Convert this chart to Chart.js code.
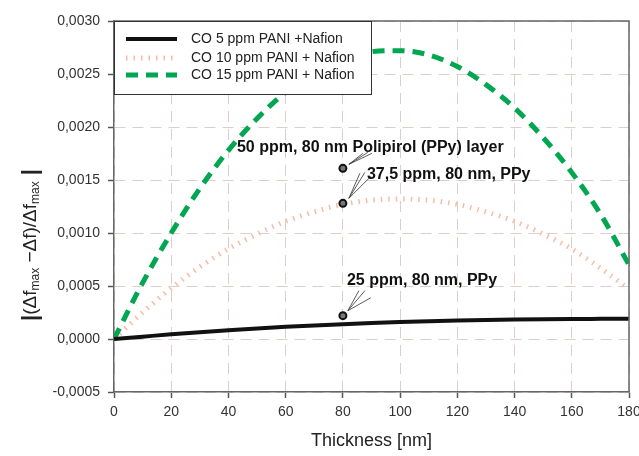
<!DOCTYPE html>
<html>
<head>
<meta charset="utf-8">
<script src="https://cdn.jsdelivr.net/npm/chart.js@4.4.1/dist/chart.umd.min.js"></script>
<style>
  html, body { margin: 0; padding: 0; background: #fff; }
  #wrap { width: 639px; height: 456px; }
</style>
</head>
<body>
<div id="wrap"><canvas id="chart_thickness"></canvas></div>
<script>
// data
var thickness = [0, 10, 20, 30, 40, 50, 60, 70, 80, 90, 100, 110, 120, 130, 140, 150, 160, 170, 180];
var co5 = [0, 0.000022, 0.000044, 0.000064, 0.000083, 0.000100, 0.000115, 0.000128, 0.000140, 0.000151,
           0.000160, 0.000168, 0.000175, 0.000180, 0.000184, 0.000187, 0.000189, 0.000190, 0.000191];
var co10 = [0, 0.00025, 0.00048, 0.00068, 0.00085, 0.00099, 0.00111, 0.00120, 0.00127, 0.00131,
            0.00132, 0.00131, 0.00127, 0.00120, 0.00111, 0.00099, 0.00085, 0.00067, 0.00047];
var co15 = [0, 0.00053, 0.00100, 0.00142, 0.00178, 0.00208, 0.00233, 0.00252, 0.00264, 0.00271,
            0.00272, 0.00268, 0.00257, 0.00240, 0.00218, 0.00190, 0.00157, 0.00118, 0.00070];
var seriesNames = ['CO 5 ppm PANI +Nafion', 'CO 10 ppm PANI + Nafion', 'CO 15 ppm PANI + Nafion'];
var markX = [80, 80, 80];
var markY = [0.00022, 0.00128, 0.00161];
var markText = ['25 ppm, 80 nm, PPy', '37,5 ppm, 80 nm, PPy', '50 ppm, 80 nm Polipirol (PPy) layer'];
var xMin = 0, xMax = 180, xStep = 20;
var yMin = -0.0005, yMax = 0.0030, yStep = 0.0005;

function pts(ys) {
    var out = [];
    for (var i = 0; i < thickness.length; i++) out.push({x: thickness[i], y: ys[i]});
    return out;
}
var marks = [];
for (var i = 0; i < markX.length; i++) marks.push({x: markX[i], y: markY[i]});

var FONT = "'Liberation Sans', Arial, sans-serif";

// label text offsets and pointer fan ends, relative to each marker pixel
var markLayout = [
    {dx: 4, dy: -35, from: [5, -5], to: [[16, -25], [22, -25], [28, -18]]},
    {dx: 24, dy: -29, from: [6, -5], to: [[17, -30], [22, -31], [28, -27]]},
    {dx: -106, dy: -21, from: [6, -4], to: [[20, -15], [25, -16], [29, -15]]}
];

var extras = {
    id: 'extras',
    afterDatasetsDraw: function (chart) {
        var ctx = chart.ctx, a = chart.chartArea;
        var xs = chart.scales.x, ys = chart.scales.y;
        ctx.save();
        // top and right frame
        ctx.strokeStyle = '#666';
        ctx.lineWidth = 1.5;
        ctx.beginPath();
        ctx.moveTo(a.left, a.top);
        ctx.lineTo(a.right, a.top);
        ctx.lineTo(a.right, a.bottom);
        ctx.stroke();

        // marker labels and pointer lines
        ctx.fillStyle = '#111';
        ctx.font = 'bold 16px ' + FONT;
        ctx.textBaseline = 'middle';
        ctx.textAlign = 'left';
        for (var i = 0; i < marks.length; i++) {
            var px = xs.getPixelForValue(marks[i].x), py = ys.getPixelForValue(marks[i].y);
            var L = markLayout[i];
            ctx.strokeStyle = '#333';
            ctx.lineWidth = 0.8;
            for (var k = 0; k < L.to.length; k++) {
                ctx.beginPath();
                ctx.moveTo(px + L.from[0], py + L.from[1]);
                ctx.lineTo(px + L.to[k][0], py + L.to[k][1]);
                ctx.stroke();
            }
            ctx.fillText(markText[i], px + L.dx, py + L.dy);
        }

        // legend box
        var bx = a.left, by = a.top, bw = 257, bh = 73;
        ctx.fillStyle = '#fff';
        ctx.fillRect(bx, by, bw, bh);
        ctx.strokeStyle = '#333';
        ctx.lineWidth = 1;
        ctx.strokeRect(bx + 0.5, by + 0.5, bw, bh);
        ctx.font = '14px ' + FONT;
        var rowY = [18, 37, 54];
        for (var j = 0; j < 3; j++) {
            var ds = chart.data.datasets[j];
            var yy = by + rowY[j];
            ctx.save();
            ctx.strokeStyle = ds.borderColor;
            ctx.lineWidth = ds.borderWidth;
            ctx.setLineDash(ds.borderDash || []);
            ctx.beginPath();
            ctx.moveTo(bx + 12, yy);
            ctx.lineTo(bx + 63, yy);
            ctx.stroke();
            ctx.restore();
            ctx.fillStyle = '#222';
            ctx.fillText(seriesNames[j], bx + 77, yy);
        }

        // y axis title with subscripts, rotated
        var parts = [
            {t: '|', f: 'bold 22px ' + FONT, dy: 0},
            {t: '(\u0394f', f: '19px ' + FONT, dy: 0},
            {t: 'max', f: '12px ' + FONT, dy: 5},
            {t: ' \u2212\u0394f)/\u0394f', f: '19px ' + FONT, dy: 0},
            {t: 'max', f: '12px ' + FONT, dy: 5},
            {t: ' |', f: 'bold 22px ' + FONT, dy: 0}
        ];
        var total = 0;
        for (var p = 0; p < parts.length; p++) {
            ctx.font = parts[p].f;
            parts[p].w = ctx.measureText(parts[p].t).width;
            total += parts[p].w;
        }
        ctx.translate(31, 245);
        ctx.rotate(-Math.PI / 2);
        ctx.fillStyle = '#222';
        ctx.textBaseline = 'middle';
        var cx = -total / 2;
        for (var q = 0; q < parts.length; q++) {
            ctx.font = parts[q].f;
            ctx.fillText(parts[q].t, cx, parts[q].dy);
            cx += parts[q].w;
        }
        ctx.restore();
    }
};

var ctx = document.getElementById('chart_thickness');
new Chart(ctx, {
    type: 'line',
    data: {
        datasets: [{
            label: seriesNames[0],
            data: pts(co5),
            borderColor: '#111',
            borderWidth: 4,
            pointRadius: 0,
            cubicInterpolationMode: 'monotone',
            order: 1
        }, {
            label: seriesNames[1],
            data: pts(co10),
            borderColor: '#f7bba8',
            borderWidth: 5,
            borderDash: [1.5, 6],
            pointRadius: 0,
            cubicInterpolationMode: 'monotone',
            order: 3
        }, {
            label: seriesNames[2],
            data: pts(co15),
            borderColor: '#00a650',
            borderWidth: 5,
            borderDash: [12, 8],
            pointRadius: 0,
            cubicInterpolationMode: 'monotone',
            order: 2
        }, {
            label: 'marks',
            data: marks,
            showLine: false,
            pointRadius: 3.5,
            pointBorderWidth: 2,
            pointBackgroundColor: '#777',
            pointBorderColor: '#111',
            order: 0
        }]
    },
    plugins: [extras],
    options: {
        responsive: true,
        maintainAspectRatio: false,
        animation: false,
        layout: {
            padding: {left: 0, right: 10, top: 21, bottom: 0}
        },
        plugins: {
            legend: {display: false},
            tooltip: {enabled: false}
        },
        scales: {
            x: {
                type: 'linear',
                min: xMin,
                max: xMax,
                afterFit: function (scale) {
                    scale.height = 64;
                    scale.paddingLeft = 0;
                    scale.paddingRight = 0;
                },
                ticks: {
                    stepSize: xStep,
                    padding: 6,
                    color: '#333',
                    font: {family: FONT, size: 14}
                },
                grid: {
                    color: '#dccfcb',
                    lineWidth: 1,
                    tickLength: 6,
                    tickColor: '#555',
                    tickWidth: 1.5,
                    tickBorderDash: []
                },
                border: {color: '#666', width: 1.5, dash: [11, 7]},
                title: {
                    display: true,
                    text: 'Thickness [nm]',
                    color: '#222',
                    font: {family: FONT, size: 18},
                    padding: {top: 4, bottom: 4}
                }
            },
            y: {
                min: yMin,
                max: yMax,
                afterFit: function (scale) {
                    scale.width = 114;
                    scale.paddingTop = 0;
                    scale.paddingBottom = 0;
                },
                ticks: {
                    stepSize: yStep,
                    padding: 8,
                    color: '#333',
                    font: {family: FONT, size: 14},
                    callback: function (v) { return v.toFixed(4).replace('.', ','); }
                },
                grid: {
                    color: '#dccfcb',
                    lineWidth: 1,
                    tickLength: 6,
                    tickColor: '#555',
                    tickWidth: 1.5,
                    tickBorderDash: []
                },
                border: {color: '#666', width: 1.5, dash: [11, 7]}
            }
        }
    }
});
</script>
</body>
</html>
